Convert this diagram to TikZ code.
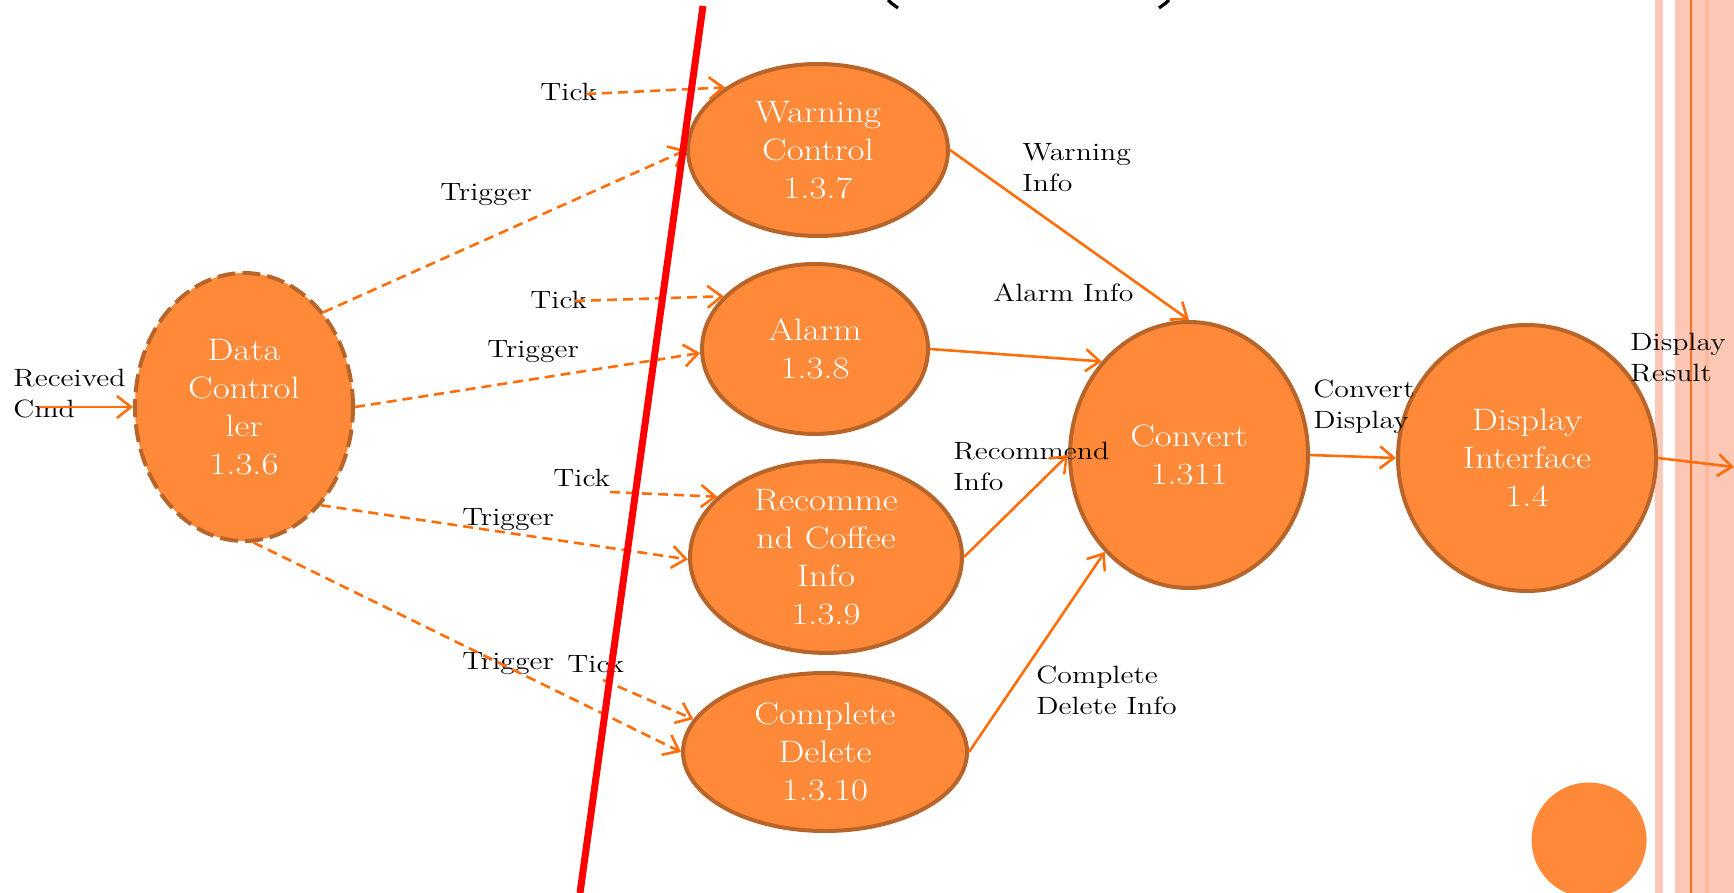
\documentclass[tikz,border=0pt]{standalone}
\usepackage{fontspec}
\setmainfont{Latin Modern Roman}[FakeStretch=1.19]
\usetikzlibrary{shapes.geometric,arrows.meta}
\definecolor{procfill}{RGB}{253,137,57}
\definecolor{procborder}{RGB}{185,101,42}
\definecolor{arrowc}{RGB}{255,110,10}
\definecolor{stripec}{RGB}{252,200,181}
\definecolor{stripedark}{RGB}{251,186,160}
\definecolor{stripeline}{RGB}{255,112,30}
\begin{document}
\begin{tikzpicture}[x=0.5pt,y=-0.5pt,
  proc/.style={ellipse, fill=procfill, draw=procborder, line width=2pt, text=white,
    align=center, inner sep=0pt, font=\fontsize{15.5}{19}\selectfont},
  lab/.style={font=\fontsize{12.5}{15.5}\selectfont, align=left, inner sep=0pt, anchor=west},
  flow/.style={draw=arrowc, line width=1.3pt, -{Straight Barb[length=7pt,width=11pt]}},
  dflow/.style={flow, dash pattern=on 5pt off 3pt}]
\useasboundingbox (0,0) rectangle (1734,893);
% right-hand stripes
\fill[stripec] (1655,0) rectangle (1663,893);
\fill[stripec] (1675,0) rectangle (1734,893);
\fill[stripedark] (1705,0) rectangle (1709,893);
\draw[stripeline, line width=0.8pt] (1691,0) -- (1691,893);
% title parentheses remnants
\draw[black, line width=1.6pt] (888,0) .. controls (891,3) .. (898,8);
\draw[black, line width=1.6pt] (1169,0) .. controls (1166,3) .. (1159,8);
% processes
\node[proc, minimum width=109pt, minimum height=134pt, dash pattern=on 9pt off 3.5pt] (dc) at (244,407) {Data\\Control\\ler\\1.3.6};
\node[proc, minimum width=130pt, minimum height=86pt] (warn) at (818,150) {Warning\\Control\\1.3.7};
\node[proc, minimum width=113pt, minimum height=85pt] (alarm) at (815,349) {Alarm\\1.3.8};
\node[proc, minimum width=136pt, minimum height=92pt] (rec) at (826,557) {Recomme\\nd Coffee\\Info\\1.3.9};
\node[proc, minimum width=142pt, minimum height=79pt] (cd) at (825,752) {Complete\\Delete\\1.3.10};
\node[proc, minimum width=119pt, minimum height=133pt] (conv) at (1189,455) {Convert\\1.311};
\node[proc, minimum width=129pt, minimum height=133pt] (disp) at (1527,458) {Display\\Interface\\1.4};
\fill[procfill] (1589,840) circle[radius=57.5];
% labels
\node[lab] (tick1) at (540,92) {Tick};
\node[lab] (trig1) at (440,195) {Trigger};
\node[lab] (tick2) at (530,300) {Tick};
\node[lab] (trig2) at (487,352) {Trigger};
\node[lab] (tick3) at (553,478) {Tick};
\node[lab] (trig3) at (462,520) {Trigger};
\node[lab] (trig4) at (462,664) {Trigger};
\node[lab] (tick4) at (567,664) {Tick};
\node[lab] (rcv) at (13,394) {Received\\Cmd};
\node[lab] (winfo) at (1022,168) {Warning\\Info};
\node[lab] (ainfo) at (993,293) {Alarm Info};
\node[lab] (rinfo) at (953,466) {Recommend\\Info};
\node[lab] (cinfo) at (1036,690) {Complete\\Delete Info};
\node[lab] (cdisp) at (1313,407) {Convert\\Display};
\node[lab] (dres) at (1630,358) {Display\\Result};
% free ends
\coordinate (t1s) at (586,94);
\coordinate (t2s) at (575,301);
\coordinate (t3s) at (610,492);
\coordinate (t4s) at (603,680);
\coordinate (rcvs) at (39,407);
\coordinate (outend) at (1734,467);
% dashed flows
\draw[dflow] (t1s) -- (warn.146);
\draw[dflow] (dc.50) -- (warn.180);
\draw[dflow] (t2s) -- (alarm.150);
\draw[dflow] (dc.east) -- (alarm.182);
\draw[dflow] (t3s) -- (rec.151);
\draw[dflow] (dc.-52) -- (rec.181);
\draw[dflow] (dc.-86) -- (cd.180);
\draw[dflow] (t4s) -- (cd.166);
% solid flows
\draw[flow] (rcvs) -- (dc.west);
\draw[flow] (warn.east) -- (conv.north);
\draw[flow] (alarm.east) -- (conv.133);
\draw[flow] (rec.east) -- (conv.west);
\draw[flow] (cd.east) -- (conv.-131);
\draw[flow] (conv.east) -- (disp.west);
\draw[flow] (disp.east) -- (outend);
% red divider
\draw[red, line width=3.5pt] (703,6) -- (580,893);
\end{tikzpicture}
\end{document}
